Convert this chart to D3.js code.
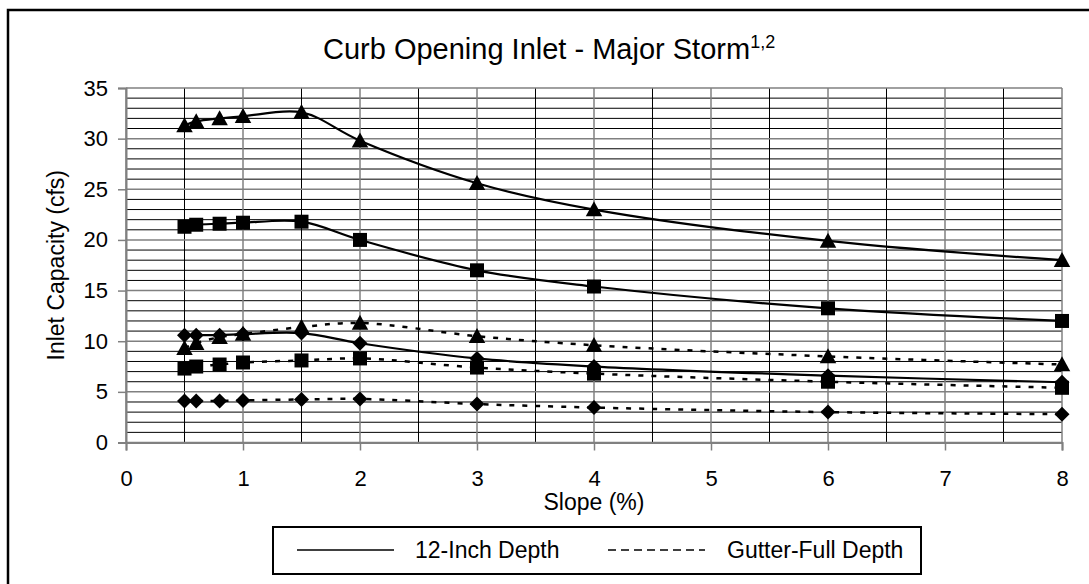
<!DOCTYPE html>
<html>
<head>
<meta charset="utf-8">
<script src="https://cdn.jsdelivr.net/npm/d3@7"></script>
<style>
  body { margin: 0; background: #fff; }
  text { font-family: "Liberation Sans", Arial, sans-serif; fill: #000; }
</style>
</head>
<body>
<script>
// data
const slope = [0.5, 0.6, 0.8, 1, 1.5, 2, 3, 4, 6, 8];
const triangle12 = [31.3, 31.7, 32.0, 32.2, 32.6, 29.8, 25.6, 23.0, 19.9, 18.0];
const square12 = [21.3, 21.5, 21.6, 21.7, 21.8, 20.0, 17.0, 15.4, 13.25, 12.0];
const diamond12 = [10.6, 10.6, 10.6, 10.7, 10.8, 9.8, 8.3, 7.5, 6.6, 5.95];
const triangleGutter = [9.3, 9.8, 10.4, 10.7, 11.4, 11.8, 10.5, 9.6, 8.5, 7.7];
const squareGutter = [7.3, 7.5, 7.7, 7.9, 8.1, 8.3, 7.4, 6.8, 6.0, 5.4];
const diamondGutter = [4.1, 4.1, 4.1, 4.15, 4.25, 4.3, 3.8, 3.45, 3.0, 2.8];
const xTicks = [0, 1, 2, 3, 4, 5, 6, 7, 8];
const yTicks = [0, 5, 10, 15, 20, 25, 30, 35];
const legendLabels = ["12-Inch Depth", "Gutter-Full Depth"];

const W = 1089, H = 584;
const margin = {top: 88, right: 27, bottom: 141.5, left: 126},
    width = W - margin.left - margin.right,
    height = H - margin.top - margin.bottom;

const x = d3.scaleLinear().domain([0, 8]).range([0, width]);
const y = d3.scaleLinear().domain([0, 35]).range([height, 0]);

const svg = d3.select("body").append("svg")
    .attr("width", W)
    .attr("height", H);

// outer chart frame
svg.append("rect")
    .attr("x", 8).attr("y", 10)
    .attr("width", W + 20).attr("height", H + 20)
    .attr("fill", "none").attr("stroke", "#000").attr("stroke-width", 2.5);

// title
const title = svg.append("text")
    .attr("x", 323).attr("y", 59)
    .attr("font-size", 29);
title.append("tspan").text("Curb Opening Inlet - Major Storm");
title.append("tspan").attr("font-size", 18).attr("dy", -11).text("1,2");

const g = svg.append("g")
    .attr("transform", `translate(${margin.left},${margin.top})`);

// minor gridlines (black)
g.selectAll(".hminor")
    .data(d3.range(0, 36).filter(v => v % 5 !== 0))
  .enter().append("line")
    .attr("x1", 0).attr("x2", width)
    .attr("y1", d => y(d)).attr("y2", d => y(d))
    .attr("stroke", "#000").attr("stroke-width", 1);
g.selectAll(".vminor")
    .data(d3.range(0.5, 8, 1))
  .enter().append("line")
    .attr("y1", 0).attr("y2", height)
    .attr("x1", d => x(d)).attr("x2", d => x(d))
    .attr("stroke", "#000").attr("stroke-width", 1);

// major gridlines (gray)
g.selectAll(".hmajor")
    .data(yTicks)
  .enter().append("line")
    .attr("x1", 0).attr("x2", width)
    .attr("y1", d => y(d)).attr("y2", d => y(d))
    .attr("stroke", "#808080").attr("stroke-width", 1.5);
g.selectAll(".vmajor")
    .data(xTicks)
  .enter().append("line")
    .attr("y1", 0).attr("y2", height)
    .attr("x1", d => x(d)).attr("x2", d => x(d))
    .attr("stroke", "#808080").attr("stroke-width", 1.5);

// axes
const xAxis = g.append("g")
    .attr("transform", `translate(0,${height})`)
    .call(d3.axisBottom(x).tickValues(xTicks).tickSize(8).tickPadding(20).tickFormat(d3.format("d")));
const yAxis = g.append("g")
    .call(d3.axisLeft(y).tickValues(yTicks).tickSize(8).tickPadding(10).tickFormat(d3.format("d")));
[xAxis, yAxis].forEach(a => {
  a.select(".domain").attr("stroke", "#808080").attr("stroke-width", 2);
  a.selectAll(".tick line").attr("stroke", "#808080").attr("stroke-width", 1.5);
  a.selectAll(".tick text")
      .attr("font-family", "Liberation Sans, Arial, sans-serif")
      .attr("font-size", 22).attr("fill", "#000");
});

// axis titles
svg.append("text")
    .attr("x", margin.left + width / 2).attr("y", 510)
    .attr("text-anchor", "middle").attr("font-size", 23)
    .text("Slope (%)");
svg.append("text")
    .attr("transform", `translate(64,${margin.top + height / 2}) rotate(-90)`)
    .attr("text-anchor", "middle").attr("font-size", 23)
    .text("Inlet Capacity (cfs)");

// marker shapes
const triangleShape = {draw(ctx, size) {
  const r = Math.sqrt(size);
  ctx.moveTo(0, -r * 0.55); ctx.lineTo(r * 0.55, r * 0.45); ctx.lineTo(-r * 0.55, r * 0.45); ctx.closePath();
}};
const squareShape = {draw(ctx, size) {
  const r = Math.sqrt(size) / 2;
  ctx.rect(-r, -r, 2 * r, 2 * r);
}};
const diamondShape = {draw(ctx, size) {
  const r = Math.sqrt(size) / 2;
  ctx.moveTo(0, -r); ctx.lineTo(r, 0); ctx.lineTo(0, r); ctx.lineTo(-r, 0); ctx.closePath();
}};

const series = [
  {values: triangleGutter, shape: triangleShape, size: 225, dash: true},
  {values: squareGutter, shape: squareShape, size: 196, dash: true},
  {values: diamondGutter, shape: diamondShape, size: 225, dash: true},
  {values: triangle12, shape: triangleShape, size: 225, dash: false},
  {values: square12, shape: squareShape, size: 196, dash: false},
  {values: diamond12, shape: diamondShape, size: 225, dash: false}
];

const line = d3.line()
    .x(d => x(d[0]))
    .y(d => y(d[1]))
    .curve(d3.curveCatmullRom.alpha(0.5));

series.forEach(s => {
  const pts = slope.map((v, i) => [v, s.values[i]]);
  g.append("path")
      .datum(pts)
      .attr("fill", "none")
      .attr("stroke", "#000")
      .attr("stroke-width", s.dash ? 2.5 : 2.2)
      .attr("stroke-dasharray", s.dash ? "5,8" : null)
      .attr("d", line);
  g.selectAll(null)
      .data(pts)
    .enter().append("path")
      .attr("transform", d => `translate(${x(d[0])},${y(d[1])})`)
      .attr("d", d3.symbol().type(s.shape).size(s.size))
      .attr("fill", "#000");
});

// legend
const legend = svg.append("g");
legend.append("rect")
    .attr("x", 273).attr("y", 527)
    .attr("width", 648).attr("height", 47)
    .attr("fill", "#fff").attr("stroke", "#000").attr("stroke-width", 2);
const legendItems = [
  {label: legendLabels[0], x1: 297, x2: 394, tx: 415, dash: null},
  {label: legendLabels[1], x1: 608, x2: 705, tx: 727, dash: "8,5"}
];
legendItems.forEach(it => {
  legend.append("line")
      .attr("x1", it.x1).attr("x2", it.x2)
      .attr("y1", 550).attr("y2", 550)
      .attr("stroke", "#000").attr("stroke-width", 1.5)
      .attr("stroke-dasharray", it.dash);
  legend.append("text")
      .attr("x", it.tx).attr("y", 558)
      .attr("font-size", 23)
      .text(it.label);
});
</script>
</body>
</html>
